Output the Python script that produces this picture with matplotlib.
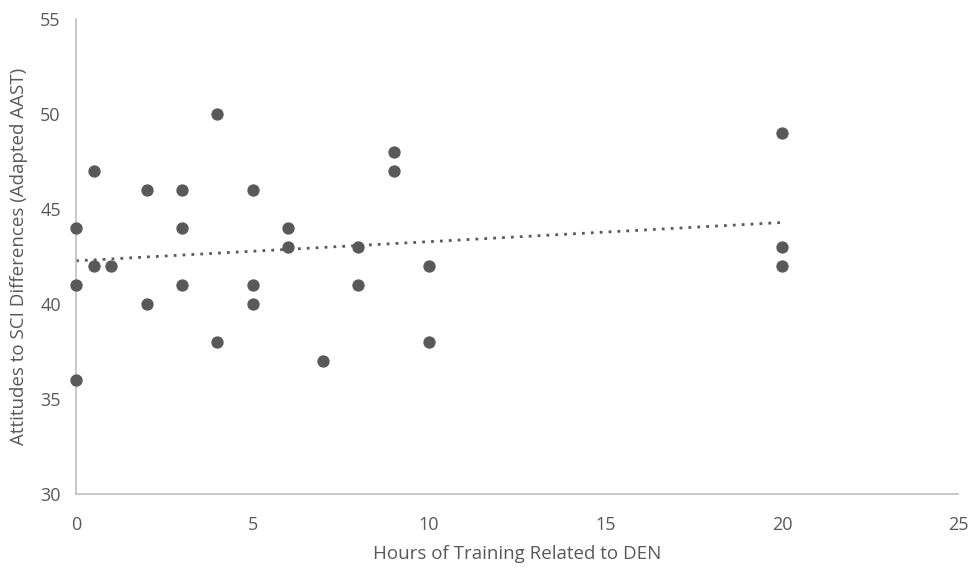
import numpy as np
import matplotlib.pyplot as plt

plt.rcParams['font.family'] = ['Open Sans', 'DejaVu Sans']

hours = [0, 0, 0, 0.5, 0.5, 1, 2, 2, 3, 3, 3, 4, 4, 5, 5, 5, 6, 6, 7, 8, 8, 9, 9, 10, 10, 20, 20, 20]
aast = [44, 41, 36, 47, 42, 42, 46, 40, 46, 44, 41, 50, 38, 46, 41, 40, 44, 43, 37, 43, 41, 48, 47, 42, 38, 49, 43, 42]

gray = '#595959'
fig = plt.figure(figsize=(9.75, 5.68), dpi=100)
ax = fig.add_axes([0.078, 0.13, 0.905, 0.8365])

ax.scatter(hours, aast, s=62, color=gray, zorder=3, clip_on=False)

# linear trendline
m, b = np.polyfit(hours, aast, 1)
xs = np.array([min(hours), max(hours)])
ax.plot(xs, m * xs + b, color=gray, linestyle=(0, (1, 2.2)), linewidth=2)

ax.set_xlim(0, 25)
ax.set_ylim(30, 55)
ax.set_xticks(range(0, 26, 5))
ax.set_yticks(range(30, 56, 5))

for s in ['top', 'right']:
    ax.spines[s].set_visible(False)
for s in ['left', 'bottom']:
    ax.spines[s].set_color('#bfbfbf')
    ax.spines[s].set_linewidth(1.2)
ax.tick_params(length=0, labelsize=13, colors=gray)
ax.tick_params(axis='x', pad=16)
ax.tick_params(axis='y', pad=11)

ax.set_xlabel('Hours of Training Related to DEN', fontsize=13.5, color=gray, labelpad=8)
ax.set_ylabel('Attitudes to SCI Differences (Adapted AAST)', fontsize=13.5, color=gray, labelpad=9)

plt.savefig('out.png', dpi=100)
